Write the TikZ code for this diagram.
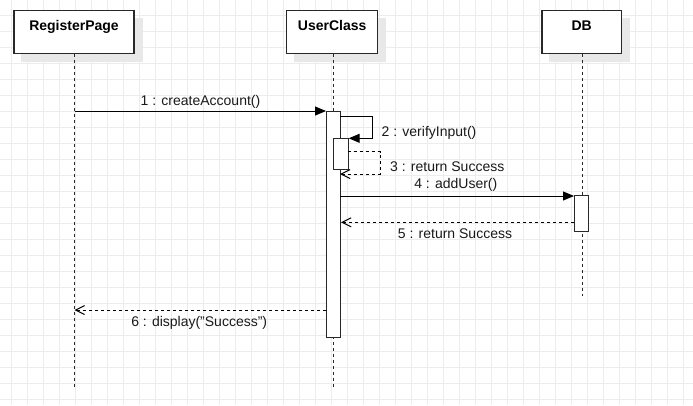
\documentclass[tikz,border=0pt]{standalone}
\usepackage{fontspec}
\setmainfont{Liberation Sans}
\usetikzlibrary{arrows.meta}
\pgfdeclarelayer{gridlayer}
\pgfdeclarelayer{shadowlayer}
\pgfsetlayers{gridlayer,shadowlayer,main}
\definecolor{gridc}{RGB}{236,236,236}
\definecolor{shadc}{RGB}{232,232,232}
\definecolor{linec}{RGB}{40,40,40}
\tikzset{
  obj/.style={draw=linec, line width=1.3bp, fill=white, font=\fontsize{14.05pt}{16pt}\selectfont\bfseries,
    text height=10bp, text depth=14bp, inner ysep=9.3bp, inner xsep=0pt},
  shadowbox/.style={fill=shadc},
  act/.style={draw=linec, line width=1bp, fill=white, inner sep=0pt, anchor=north west},
  life/.style={draw=linec, line width=1bp, dash pattern=on 3bp off 3bp},
  msg/.style={draw=black, line width=1bp, -{Triangle[length=11bp,width=9bp]}},
  ret/.style={draw=black, line width=1bp, dash pattern=on 3bp off 3bp, -{Straight Barb[length=9bp,width=9bp]}},
  lbl/.style={font=\fontsize{14.05pt}{16pt}\selectfont, inner sep=0pt, text=black!90}
}
\begin{document}
\begin{tikzpicture}[x=1bp,y=-1bp]
\useasboundingbox (0,0) rectangle (693,405);
% grid
\begin{pgfonlayer}{gridlayer}
\foreach \k in {0,...,42} \draw[gridc, line width=1bp] (11.5+16*\k,0) -- (11.5+16*\k,405);
\foreach \k in {0,...,24} \draw[gridc, line width=1bp] (0,15.5+16*\k) -- (693,15.5+16*\k);
\end{pgfonlayer}

% objects
\node[obj, minimum width=120bp] (rp) at (74,32) {RegisterPage};
\node[obj, minimum width=91bp] (uc) at (332.2,32) {UserClass};
\node[obj, minimum width=79.3bp] (db) at (581.7,32) {DB};
\begin{pgfonlayer}{shadowlayer}
\fill[shadowbox] ([shift={(8,8)}]rp.north west) rectangle ([shift={(8,8)}]rp.south east);
\fill[shadowbox] ([shift={(8,8)}]uc.north west) rectangle ([shift={(8,8)}]uc.south east);
\fill[shadowbox] ([shift={(8,8)}]db.north west) rectangle ([shift={(8,8)}]db.south east);
\end{pgfonlayer}

% lifeline ends
\coordinate (rpEnd) at (74.5,387);
\coordinate (ucEnd) at (333,388);
\coordinate (dbEnd) at (582,296);
\draw[life] (rp.south -| rpEnd) -- (rpEnd);
\draw[life] (uc.south -| ucEnd) -- (ucEnd);
\draw[life] (db.south -| dbEnd) -- (dbEnd);

% activations
\node[act, minimum width=14bp, minimum height=226bp] (a1) at (326,111) {};
\node[act, minimum width=14.4bp, minimum height=31bp] (a2) at (333.3,138.3) {};
\node[act, minimum width=14.3bp, minimum height=35.4bp] (a3) at (574,195.3) {};

% message 1
\coordinate (m1s) at (74.5,111);
\draw[msg] (m1s) -- (a1.north west);
\node[lbl, anchor=base] (l1) at (200.5,105.5) {1 : createAccount()};

% message 2 (self call)
\coordinate (m2s) at (340,116);
\draw[msg] (m2s) -- ++(32.7,0) |- (a2.north east);
\node[lbl, anchor=base west] (l2) at (381.5,136) {2 : verifyInput()};

% message 3 (return)
\coordinate (m3s) at (347.7,151.7);
\coordinate (m3e) at (340,174);
\draw[ret] (m3s) -- ++(32.5,0) |- (m3e);
\node[lbl, anchor=base west] (l3) at (390,171.5) {3 : return Success};

% message 4
\coordinate (m4s) at (340,196);
\draw[msg] (m4s) -- (m4s -| a3.west);
\node[lbl, anchor=base] (l4) at (455.8,188.3) {4 : addUser()};

% message 5
\coordinate (m5s) at (574,222.3);
\draw[ret] (m5s) -- (m5s -| a1.east);
\node[lbl, anchor=base] (l5) at (455,238.3) {5 : return Success};

% message 6
\coordinate (m6s) at (326,310);
\draw[ret] (m6s) -- (m6s -| rpEnd);
\node[lbl, anchor=base] (l6) at (199.2,326) {6 : display("Success")};
\end{tikzpicture}
\end{document}
